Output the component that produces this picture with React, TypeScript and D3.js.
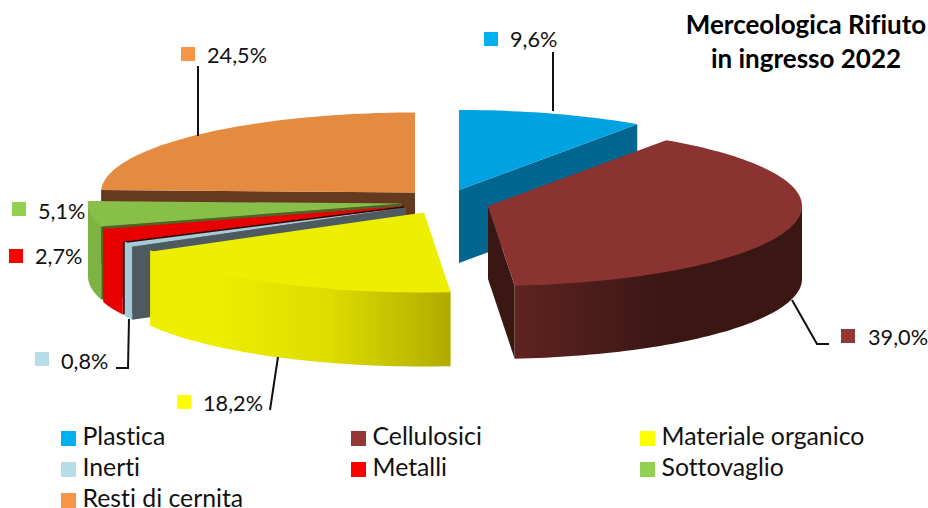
import React from "react";
import * as d3 from "d3";

const W = 928, H = 508;
const categories = ["Plastica", "Cellulosici", "Materiale organico", "Inerti", "Metalli", "Sottovaglio", "Resti di cernita"];
const values = [9.6, 39.0, 18.2, 0.8, 2.7, 5.1, 24.5];
const labels = ["9,6%", "39,0%", "18,2%", "0,8%", "2,7%", "5,1%", "24,5%"];
const topColors = ["#00A2E1", "#8A3330", "#EEEE00", "#A5CBD8", "#E80000", "#87BF48", "#E48B40"];
const sideColors = ["#006690", "url(#cellGrad)", "url(#yelGrad)", "#A5CBD8", "#E80000", "#7EB344", "#663A1E"];
const wallColors = ["#006690", "#3B1714", "#B0AA00", "#4D5A60", "#3C0404", "#4E6428", "#663A1E"];
const legendColors = ["#00B0F0", "#953735", "#FFFF00", "#B7DDE8", "#FF0000", "#92D050", "#F79646"];

// exploded apex of each slice (layout)
const apex: [number, number][] = [[459, 190], [488, 206], [424, 212.5], [406, 207.5], [404, 206], [402, 203.5], [415, 192.5]];
const depths = [73, 73, 74, 73, 73, 73, 73];
const RX = 314, RY = 80;
// label layout: [key x, key y, text x, text y]
const labelPos: [number, number, number, number][] = [
  [484, 32, 510, 47], [841, 329, 868, 345], [177, 395, 203, 411], [35, 352, 61, 369],
  [9, 249, 35, 264], [12, 202, 38, 219], [181, 47, 207, 63],
];
const leaders: [number, number][][] = [
  [[553, 52], [553, 111]],
  [[792, 300], [817, 344], [829, 344]],
  [[278, 357], [270, 410]],
  [[129, 319], [128, 368], [116, 368]],
  [[198, 66], [198, 136]],
];
const legendPos: [number, number][] = [[61, 445], [351, 445], [640, 445], [61, 476], [351, 476], [640, 476], [61, 506.5]];
const titleLines = ["Merceologica Rifiuto", "in ingresso 2022"];

const arcs = d3.pie<number>().sort(null)(values);
const line = d3.line();
const FONT = "Lato, 'Open Sans', sans-serif";

function pt(i: number, a: number, dy = 0): [number, number] {
  return [apex[i][0] + RX * Math.sin(a), apex[i][1] - RY * Math.cos(a) + dy];
}
function arcPts(i: number, a0: number, a1: number, dy = 0) {
  const n = Math.max(2, Math.ceil((a1 - a0) * 40));
  return d3.range(n + 1).map((k) => pt(i, a0 + ((a1 - a0) * k) / n, dy));
}
function topPath(i: number) {
  const { startAngle: a0, endAngle: a1 } = arcs[i];
  return line([apex[i], ...arcPts(i, a0, a1)]) + "Z";
}
function wallPath(i: number, a: number) {
  const c = apex[i], p = pt(i, a), d = depths[i];
  return line([c, p, [p[0], p[1] + d], [c[0], c[1] + d]]) + "Z";
}
function outerPath(i: number) {
  const a0 = Math.max(arcs[i].startAngle, Math.PI / 2);
  const a1 = Math.min(arcs[i].endAngle, (3 * Math.PI) / 2);
  if (a1 <= a0) return null;
  return line([...arcPts(i, a0, a1, -1.5), ...arcPts(i, a0, a1, depths[i]).reverse()]) + "Z";
}

// back-to-front paint order, with the one visible cut wall of each slice
const order = [0, 1, 6, 5, 4, 3, 2];
const wallAngle = (i: number) => (i === 0 || i === 1 ? arcs[i].endAngle : i === 2 ? null : arcs[i].startAngle);

export default function App() {
  return (
    <svg width={W} height={H} viewBox={`0 0 ${W} ${H}`} style={{ position: "absolute", left: 0, top: 0, background: "#fff", fontVariantLigatures: "none" }} fontFamily={FONT}>
      <defs>
        <linearGradient id="yelGrad" gradientUnits="userSpaceOnUse" x1={151} x2={451} y1={0} y2={0}>
          <stop offset="0.2" stopColor="#EEEE00" />
          <stop offset="0.6" stopColor="#DCDC00" />
          <stop offset="1" stopColor="#B0AA00" />
        </linearGradient>
        <linearGradient id="cellGrad" gradientUnits="userSpaceOnUse" x1={515} x2={660} y1={0} y2={0}>
          <stop offset="0" stopColor="#5F2320" />
          <stop offset="1" stopColor="#3B1714" />
        </linearGradient>
      </defs>
      {order.map((i) => {
        const wa = wallAngle(i);
        const outer = outerPath(i);
        return (
          <g key={i}>
            {wa !== null && <path d={wallPath(i, wa)} fill={wallColors[i]} />}
            {outer && <path d={outer} fill={sideColors[i]} />}
            <path d={topPath(i)} fill={topColors[i]} />
          </g>
        );
      })}
      {leaders.map((l, i) => (
        <path key={i} d={line(l) ?? ""} fill="none" stroke="#111" strokeWidth={2} />
      ))}
      {labels.map((t, i) => (
        <g key={t}>
          <rect x={labelPos[i][0]} y={labelPos[i][1]} width={14} height={14} fill={legendColors[i]} />
          <text x={labelPos[i][2]} y={labelPos[i][3]} fontSize={21.7} fill="#111">{t}</text>
        </g>
      ))}
      {titleLines.map((t, i) => (
        <text key={t} x={806} y={34 + i * 34} textAnchor="middle" fontSize={26} fontWeight={700} fill="#000">{t}</text>
      ))}
      {categories.map((c, i) => (
        <g key={c}>
          <rect x={legendPos[i][0]} y={Math.round(legendPos[i][1]) - 14} width={15} height={15} fill={legendColors[i]} />
          <text x={legendPos[i][0] + 21.5} y={legendPos[i][1]} fontSize={24.8} fill="#111">{c}</text>
        </g>
      ))}
    </svg>
  );
}
